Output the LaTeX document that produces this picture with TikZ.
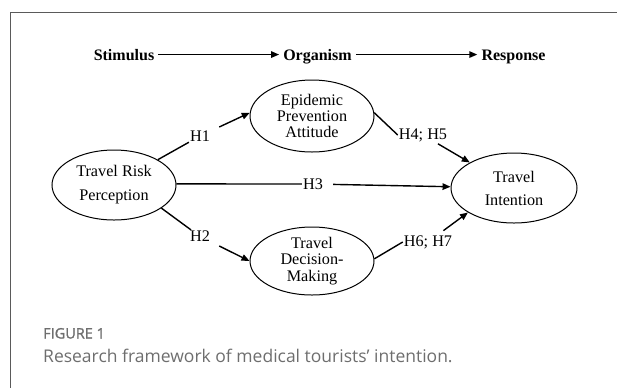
\documentclass[tikz,border=0pt]{standalone}
\usepackage{fontspec}
\setmainfont{Liberation Serif}
\newfontfamily\capfont{Open Sans}
\newfontfamily\capfontsb[FakeBold=1.3]{Open Sans}
\usetikzlibrary{shapes.geometric,arrows.meta}
\definecolor{framegray}{HTML}{5A5A5A}
\definecolor{capgray}{HTML}{6E6E6E}
\begin{document}
\begin{tikzpicture}[x=1bp,y=-1bp,
  every node/.style={font=\fontsize{16.2bp}{17bp}\selectfont},
  headnode/.style={inner xsep=4bp, inner ysep=1bp, anchor=base, font=\fontsize{16bp}{17bp}\selectfont\bfseries},
  ovalbox/.style={ellipse, draw, line width=1bp, inner sep=0pt, align=center},
  lbl/.style={inner sep=1bp},
  conn/.style={line width=1.4bp},
  arr/.style={conn, -{Triangle[length=8bp,width=6.5bp]}},
]
\useasboundingbox (0,0) rectangle (617,387);
% frame
\draw[framegray, line width=1bp] (10,390) -- (10,12.7) -- (620,12.7);

% header
\node[headnode] (stim) at (124,60) {Stimulus};
\node[headnode] (org) at (317.5,60) {Organism};
\node[headnode] (resp) at (513.5,60) {Response};
\draw[arr] (stim.east) -- (stim.east -| org.west);
\draw[arr] (org.east |- stim.east) -- (resp.west |- stim.east);

% ovals
\node[ovalbox, minimum width=124bp, minimum height=70bp,
      font=\fontsize{16.2bp}{24bp}\selectfont] (trp) at (114,185) {Travel Risk\\Perception};
\node[ovalbox, minimum width=124bp, minimum height=72bp,
      font=\fontsize{16.2bp}{16bp}\selectfont] (epa) at (312,116) {Epidemic\\Prevention\\Attitude};
\node[ovalbox, minimum width=124bp, minimum height=68bp,
      font=\fontsize{16.2bp}{16.3bp}\selectfont] (tdm) at (312,261) {Travel\\Decision-\\Making};
\node[ovalbox, minimum width=126bp, minimum height=70bp,
      font=\fontsize{16.2bp}{23bp}\selectfont] (ti) at (514,188) {Travel\\Intention};

% labels
\node[lbl] (h1) at (200,136) {H1};
\node[lbl] (h2) at (200,236.5) {H2};
\node[lbl] (h3) at (313,184) {H3};
\node[lbl] (h45) at (423,135) {H4; H5};
\node[lbl] (h67) at (428,242) {H6; H7};

% connectors
\draw[conn] (trp.1) -- (h3);
\draw[conn] (trp.30) -- (h1);
\draw[arr, shorten <=9bp] (h1) -- (epa.177);
\draw[conn] (trp.-26) -- (h2);
\draw[arr, shorten <=9bp] (h2) -- (tdm.west);
\draw[arr, shorten <=9bp] (h3) -- (ti);
\draw[conn] (epa.3) -- (h45.west);
\draw[arr, shorten <=2bp] (h45) -- (ti.150);
\draw[conn] (tdm.2) -- (h67.west);
\draw[arr, shorten <=6bp] (h67) -- (ti.208);

% caption
\node[anchor=base west, inner sep=0pt, text=capgray,
      font=\capfontsb\fontsize{14.5bp}{16bp}\selectfont] (figlbl) at (43,338.5) {FIGURE 1};
\node[anchor=base west, inner sep=0pt, text=capgray,
      font=\capfont\fontsize{17.5bp}{20bp}\selectfont] (cap) at (43,362) {Research framework of medical tourists’ intention.};
\end{tikzpicture}
\end{document}
